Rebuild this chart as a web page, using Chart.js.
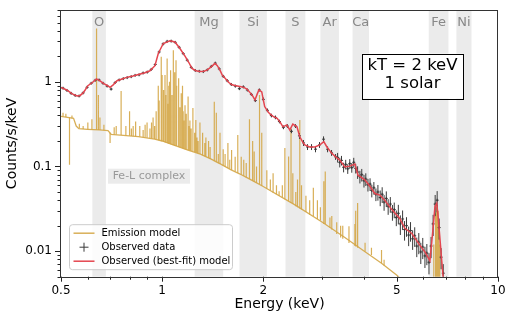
<!DOCTYPE html>
<html><head><meta charset="utf-8">
<script src="https://cdn.jsdelivr.net/npm/chart.js@4"></script>
<style>html,body{margin:0;padding:0;background:#fff}#wrap{width:509px;height:316px;position:relative}</style>
</head><body><div id="wrap"><canvas id="c" width="509" height="316"></canvas></div>
<script>
// ---- Observed (best-fit) model (red) ----
const modelE = [0.50,0.52,0.54,0.558,0.57,0.581,0.59,0.601,0.62,0.638,0.655,0.67,0.685,0.70,0.715,0.734,0.76,0.78,0.80,0.819,0.85,0.889,0.92,0.952,0.974,1.008,1.055,1.092,1.13,1.17,1.20,1.227,1.26,1.296,1.33,1.36,1.40,1.437,1.46,1.487,1.51,1.54,1.58,1.614,1.66,1.705,1.75,1.789,1.83,1.86,1.89,1.92,1.942,1.98,2.00,2.02,2.06,2.09,2.14,2.20,2.25,2.29,2.35,2.40,2.45,2.52,2.57,2.62,2.66,2.75,2.85,2.95,3.03,3.095,3.20,3.30,3.38,3.50,3.62,3.75,3.83,3.93,4.02,4.16,4.30,4.45,4.60,4.83,5.10,5.28,5.54,5.85,6.06,6.27,6.40,6.49,6.57,6.62,6.71,6.80,6.90];
const modelV = [0.86,0.80,0.72,0.68,0.69,0.735,0.80,0.90,0.98,1.08,1.02,0.95,0.91,0.86,0.92,1.03,1.08,1.12,1.15,1.17,1.22,1.28,1.35,1.55,2.16,2.83,3.04,2.95,2.47,2.01,1.70,1.44,1.35,1.32,1.33,1.37,1.50,1.65,1.55,1.37,1.20,1.10,0.98,0.92,0.90,0.88,0.86,0.82,0.74,0.68,0.61,0.72,0.80,0.76,0.62,0.51,0.45,0.42,0.39,0.37,0.33,0.294,0.31,0.27,0.316,0.294,0.224,0.195,0.18,0.17,0.17,0.18,0.196,0.17,0.143,0.128,0.119,0.099,0.101,0.107,0.079,0.074,0.069,0.058,0.048,0.046,0.040,0.031,0.0244,0.0186,0.0162,0.0118,0.0098,0.0077,0.0177,0.0334,0.0367,0.028,0.0148,0.0077,0.004];

// ---- Observed data (with fractional errors) ----
const dataE = [0.507,0.521,0.536,0.551,0.566,0.582,0.598,0.615,0.632,0.649,
 0.667,0.686,0.705,0.725,0.745,0.766,0.787,0.809,0.831,0.854,
 0.878,0.903,0.928,0.954,0.980,1.007,1.035,1.064,1.094,1.124,
 1.156,1.188,1.221,1.255,1.290,1.326,1.363,1.401,1.440,1.480,
 1.521,1.563,1.607,1.652,1.698,1.745,1.794,1.844,1.895,1.948,
 2.002,2.058,2.115,2.174,2.235,2.297,2.361,2.427,2.495,2.564,
 2.636,2.709,2.785,2.862,2.942,3.024,3.109,3.195,3.284,
 3.33,3.38,3.42,3.47,3.52,3.57,3.62,3.67,3.72,3.77,
 3.82,3.88,3.93,3.99,4.04,4.10,4.16,4.21,4.27,4.33,
 4.39,4.46,4.52,4.58,4.65,4.71,4.78,4.85,4.91,4.98,
 5.05,5.12,5.20,5.27,5.34,5.42,5.49,5.57,5.65,5.73,
 5.81,5.89,5.97,6.06,6.14,6.23,6.32,6.41,6.50,6.59,
 6.68,6.77,6.87];
const dataV = [0.84,0.79,0.73,0.69,0.68,0.74,0.86,0.96,1.04,1.05,
 0.96,0.89,0.82,0.98,1.05,1.09,1.12,1.15,1.19,1.21,
 1.27,1.30,1.40,1.60,2.25,2.80,3.00,3.02,2.92,2.55,
 2.15,1.80,1.48,1.36,1.33,1.32,1.38,1.52,1.66,1.42,
 1.16,1.03,0.93,0.89,0.83,0.87,0.80,0.71,0.60,0.80,
 0.62,0.46,0.40,0.38,0.34,0.29,0.30,0.26,0.30,0.23,
 0.19,0.17,0.17,0.16,0.18,0.21,0.16,0.145,0.13,
 0.128,0.112,0.118,0.098,0.106,0.094,0.108,0.097,0.112,0.095,
 0.086,0.076,0.080,0.068,0.071,0.061,0.062,0.052,0.056,0.047,
 0.050,0.043,0.047,0.038,0.042,0.034,0.036,0.029,0.031,0.025,
 0.028,0.021,0.024,0.018,0.020,0.0155,0.0175,0.0140,0.0152,0.0115,
 0.0128,0.0098,0.0112,0.0088,0.0095,0.0074,0.0115,0.021,0.036,0.040,
 0.019,0.0085,0.0055];
const dataErr = [0.02,0.02,0.02,0.02,0.02,0.02,0.02,0.02,0.02,0.02,
 0.02,0.02,0.02,0.02,0.02,0.02,0.02,0.02,0.02,0.02,
 0.02,0.02,0.02,0.02,0.02,0.02,0.02,0.02,0.02,0.02,
 0.02,0.02,0.02,0.02,0.02,0.02,0.02,0.02,0.02,0.02,
 0.03,0.03,0.03,0.03,0.03,0.03,0.03,0.03,0.03,0.03,
 0.05,0.05,0.05,0.05,0.05,0.05,0.05,0.05,0.05,0.08,
 0.08,0.08,0.08,0.08,0.08,0.08,0.08,0.08,0.08,
 0.13,0.13,0.13,0.13,0.13,0.13,0.13,0.13,0.13,0.13,
 0.17,0.17,0.17,0.17,0.17,0.17,0.17,0.17,0.17,0.17,
 0.21,0.21,0.21,0.21,0.21,0.21,0.21,0.21,0.21,0.21,
 0.26,0.26,0.26,0.26,0.26,0.26,0.26,0.26,0.26,0.26,
 0.28,0.28,0.28,0.28,0.28,0.28,0.28,0.28,0.28,0.28,
 0.28,0.28,0.28];

// ---- Emission model (gold): continuum + lines ----
const contE = [0.50,0.545,0.555,0.565,0.60,0.65,0.69,0.705,0.75,0.85,0.95,1.0,1.1,1.2,1.3,1.4,1.5,1.6,1.7,1.8,1.9,2.0,2.5,3.0,3.5,4.0,4.5,5.0,5.2];
const contV = [0.39,0.37,0.30,0.28,0.275,0.27,0.265,0.24,0.235,0.225,0.21,0.20,0.175,0.155,0.14,0.122,0.106,0.092,0.082,0.073,0.065,0.058,0.0347,0.022,0.0145,0.0100,0.0072,0.0052,0.0045];
const lineE = [0.507,0.517,0.530,0.539,0.567,0.582,0.601,0.618,0.638,0.646,
 0.653,0.671,0.700,0.720,0.730,0.755,0.780,0.800,0.810,0.820,
 0.834,0.858,0.878,0.890,0.902,0.920,0.930,0.940,0.950,0.960,
 0.974,0.980,0.994,1.000,1.010,1.020,1.025,1.035,1.040,1.047,
 1.052,1.060,1.070,1.080,1.090,1.100,1.105,1.120,1.130,1.140,
 1.150,1.155,1.160,1.170,1.180,1.195,1.200,1.210,1.220,1.235,
 1.250,1.260,1.270,1.280,1.296,1.320,1.340,1.350,1.375,1.390,
 1.430,1.450,1.470,1.487,1.520,1.540,1.570,1.590,1.610,1.650,
 1.680,1.720,1.750,1.780,1.820,1.860,1.880,1.910,1.950,1.980,
 2.050,2.100,2.140,2.190,2.230,2.280,2.320,2.380,2.420,2.450,
 2.500,2.530,2.570,2.600,2.680,2.750,2.820,2.900,2.960,3.030,
 3.060,3.160,3.200,3.310,3.400,3.450,3.600,3.750,3.770,3.820,
 4.020,4.200,4.500,4.580,6.440,6.520,6.560,6.600,6.640,6.670,
 6.710];
const linePeak = [0.43,0.42,0.105,0.40,0.32,0.30,0.33,0.36,4.25,0.70,
 0.38,0.31,0.19,0.29,0.30,0.78,0.30,0.45,0.28,0.30,
 0.34,0.30,0.27,0.31,0.33,0.28,0.33,0.38,0.30,0.45,
 0.90,0.60,1.97,1.20,0.80,1.20,0.70,1.88,0.55,0.90,
 1.00,1.37,0.70,2.36,1.30,1.80,0.90,1.10,0.50,0.73,
 0.90,0.45,0.35,0.53,0.42,0.67,0.30,0.35,0.28,0.49,
 0.25,0.354,0.22,0.20,0.33,0.25,0.19,0.22,0.20,0.17,
 0.58,0.43,0.14,0.25,0.16,0.14,0.19,0.12,0.157,0.13,
 0.236,0.13,0.12,0.11,0.36,0.20,0.15,0.10,0.70,0.25,
 0.09,0.07,0.083,0.06,0.051,0.06,0.165,0.131,0.283,0.083,
 0.05,0.07,0.354,0.06,0.045,0.04,0.056,0.04,0.033,0.067,
 0.087,0.025,0.026,0.022,0.02,0.02,0.0197,0.021,0.030,0.037,
 0.0126,0.011,0.0103,0.0079,0.012,0.028,0.033,0.035,0.030,0.022,
 0.012];
const lineBase = [0.39,0.385,0.38,0.37,0.28,0.278,0.275,0.273,0.272,0.27,
 0.27,0.268,0.25,0.24,0.238,0.235,0.232,0.23,0.229,0.228,
 0.226,0.224,0.222,0.22,0.218,0.215,0.214,0.212,0.211,0.21,
 0.205,0.203,0.200,0.199,0.196,0.193,0.192,0.189,0.188,0.186,
 0.185,0.183,0.18,0.178,0.176,0.175,0.174,0.17,0.168,0.166,
 0.164,0.163,0.162,0.16,0.158,0.156,0.155,0.153,0.152,0.15,
 0.148,0.146,0.144,0.142,0.14,0.136,0.132,0.13,0.126,0.123,
 0.115,0.112,0.109,0.107,0.102,0.099,0.096,0.094,0.091,0.087,
 0.084,0.080,0.077,0.074,0.071,0.068,0.066,0.064,0.062,0.059,
 0.055,0.052,0.049,0.047,0.045,0.043,0.041,0.039,0.037,0.036,
 0.034,0.033,0.032,0.031,0.029,0.027,0.026,0.024,0.023,0.021,
 0.021,0.019,0.018,0.016,0.0145,0.014,0.0125,0.0115,0.0114,0.011,
 0.0099,0.009,0.0072,0.0068,0.004,0.004,0.004,0.004,0.004,0.004,
 0.004];

// ---- Element bands ----
const bandNames = ['O','Mg','Si','S','Ar','Ca','Fe','Ni'];
const bandLo = [0.62,1.25,1.70,2.33,2.96,3.69,6.22,7.52];
const bandHi = [0.68,1.52,2.05,2.67,3.36,4.13,7.12,8.34];

// ---- Ticks ----
const xTicks = [0.5,0.6,0.7,0.8,0.9,1,2,3,4,5,6,7,8,9,10];
const xLabels = [0.5,1,2,5,10];
const yTicks = [0.005,0.006,0.007,0.008,0.009,0.01,0.02,0.03,0.04,0.05,0.06,0.07,0.08,0.09,0.1,0.2,0.3,0.4,0.5,0.6,0.7,0.8,0.9,1,2,3,4,5,6,7];
const yLabels = [0.01,0.1,1];

const FONT = 'DejaVu Sans';
const GOLD = 'rgba(212,166,70,0.9)';
const RED = '#e4454f';
const DARK = '#3a3a3a';

const spikeData = [];
for (let i = 0; i < lineE.length; i++) {
  spikeData.push({x: lineE[i], y: lineBase[i]});
  spikeData.push({x: lineE[i], y: linePeak[i]});
  spikeData.push({x: lineE[i], y: null});
}

const deco = {
  id: 'deco',
  beforeDatasetsDraw(chart) {
    const {ctx, chartArea: a, scales: {x, y}} = chart;
    ctx.save();
    ctx.fillStyle = '#ebebeb';
    for (let i = 0; i < bandNames.length; i++) {
      const x0 = x.getPixelForValue(bandLo[i]), x1 = x.getPixelForValue(bandHi[i]);
      ctx.fillRect(x0, a.top, x1 - x0, a.bottom - a.top);
    }
    ctx.fillStyle = '#888';
    ctx.font = '13px "' + FONT + '"';
    ctx.textAlign = 'center';
    ctx.textBaseline = 'middle';
    for (let i = 0; i < bandNames.length; i++) {
      const x0 = x.getPixelForValue(bandLo[i]), x1 = x.getPixelForValue(bandHi[i]);
      ctx.fillText(bandNames[i], (x0 + x1) / 2, a.top + 12);
    }
    // Fe-L complex label
    const lx = a.left + 88, ly = a.top + 166;
    ctx.fillStyle = '#ebebeb';
    ctx.fillRect(lx - 41, ly - 7.5, 82, 15);
    ctx.fillStyle = '#999';
    ctx.font = '11px "' + FONT + '"';
    ctx.fillText('Fe-L complex', lx, ly);
    ctx.restore();
  },
  afterDatasetDraw(chart, args) {
    if (args.index !== 1) return;
    const {ctx, chartArea: a, scales: {x, y}} = chart;
    ctx.save();
    ctx.beginPath();
    ctx.rect(a.left, a.top, a.right - a.left, a.bottom - a.top);
    ctx.clip();
    ctx.strokeStyle = DARK;
    ctx.lineWidth = 1;
    ctx.beginPath();
    for (let i = 0; i < dataE.length; i++) {
      const px = x.getPixelForValue(dataE[i]);
      const p0 = y.getPixelForValue(dataV[i] * (1 - dataErr[i]));
      const p1 = y.getPixelForValue(dataV[i] * (1 + dataErr[i]));
      ctx.moveTo(px, p0); ctx.lineTo(px, p1);
    }
    ctx.stroke();
    ctx.restore();
  },
  afterDraw(chart) {
    const {ctx, chartArea: a, scales: {x, y}} = chart;
    ctx.save();
    // ticks
    ctx.strokeStyle = '#222';
    ctx.lineWidth = 1;
    ctx.beginPath();
    xTicks.forEach(v => {
      const px = Math.round(x.getPixelForValue(v)) + 0.5;
      const len = xLabels.includes(v) ? 5 : 3;
      ctx.moveTo(px, a.bottom); ctx.lineTo(px, a.bottom + len);
    });
    yTicks.forEach(v => {
      const py = Math.round(y.getPixelForValue(v)) + 0.5;
      const len = yLabels.includes(v) ? 6 : 3.5;
      ctx.moveTo(a.left, py); ctx.lineTo(a.left - len, py);
    });
    ctx.stroke();
    // spines
    ctx.strokeStyle = '#333';
    ctx.strokeRect(Math.round(a.left) - 0.5, Math.round(a.top) + 0.5, Math.round(a.right - a.left), Math.round(a.bottom - a.top));
    // text box
    const bx = a.left + 301, by = a.top + 43.5, bw = 101, bh = 45;
    ctx.fillStyle = '#fff';
    ctx.fillRect(bx, by, bw, bh);
    ctx.strokeStyle = '#000';
    ctx.strokeRect(Math.round(bx) + 0.5, Math.round(by) + 0.5, bw, bh);
    ctx.fillStyle = '#000';
    ctx.font = '16.5px "' + FONT + '"';
    ctx.textAlign = 'center';
    ctx.textBaseline = 'middle';
    ctx.fillText('kT = 2 keV', bx + bw / 2, by + 12.5);
    ctx.fillText('1 solar', bx + bw / 2, by + 30.5);
    // legend
    const lx = a.left + 8.5, ly = a.top + 214.5, lw = 163, lh = 45;
    ctx.beginPath();
    ctx.roundRect(lx, ly, lw, lh, 3);
    ctx.fillStyle = 'rgba(255,255,255,0.85)';
    ctx.fill();
    ctx.strokeStyle = '#cccccc';
    ctx.stroke();
    const rows = [ly + 8.5, ly + 22.5, ly + 36.5];
    ctx.lineWidth = 1.5;
    ctx.strokeStyle = GOLD;
    ctx.beginPath(); ctx.moveTo(lx + 4, rows[0]); ctx.lineTo(lx + 25, rows[0]); ctx.stroke();
    ctx.strokeStyle = RED;
    ctx.beginPath(); ctx.moveTo(lx + 4, rows[2]); ctx.lineTo(lx + 25, rows[2]); ctx.stroke();
    ctx.lineWidth = 1;
    ctx.strokeStyle = DARK;
    ctx.beginPath();
    ctx.moveTo(lx + 10, rows[1]); ctx.lineTo(lx + 19, rows[1]);
    ctx.moveTo(lx + 14.5, rows[1] - 4.5); ctx.lineTo(lx + 14.5, rows[1] + 4.5);
    ctx.stroke();
    ctx.fillStyle = '#000';
    ctx.font = '10px "' + FONT + '"';
    ctx.textAlign = 'left';
    ctx.fillText('Emission model', lx + 32, rows[0]);
    ctx.fillText('Observed data', lx + 32, rows[1]);
    ctx.fillText('Observed (best-fit) model', lx + 32, rows[2]);
    ctx.restore();
  }
};

new Chart(document.getElementById('c'), {
  type: 'line',
  data: {
    datasets: [
      {label: 'Observed (best-fit) model', data: modelE.map((e, i) => ({x: e, y: modelV[i]})),
       borderColor: RED, borderWidth: 1.5, pointRadius: 0, fill: false, tension: 0},
      {label: 'Observed data', data: dataE.map((e, i) => ({x: e, y: dataV[i]})),
       showLine: false, pointStyle: 'cross', pointRadius: 1.5, borderColor: DARK, backgroundColor: DARK, pointBorderWidth: 1},
      {label: 'Emission lines', data: spikeData, spanGaps: false,
       borderColor: GOLD, borderWidth: 1.2, pointRadius: 0, fill: false},
      {label: 'Emission model', data: contE.map((e, i) => ({x: e, y: contV[i]})),
       borderColor: GOLD, borderWidth: 1.3, pointRadius: 0, fill: false}
    ]
  },
  options: {
    responsive: false, animation: false, devicePixelRatio: 1,
    layout: {padding: {left: 0, right: 11, top: 9.5, bottom: 0}},
    plugins: {legend: {display: false}, tooltip: {enabled: false}},
    scales: {
      x: {
        type: 'logarithmic', min: 0.5, max: 10,
        afterBuildTicks: s => { s.ticks = xTicks.map(v => ({value: v})); },
        afterFit: s => { s.height = 39.3; },
        ticks: {autoSkip: false, maxRotation: 0, color: '#000', padding: 2,
          font: {family: FONT, size: 12},
          callback: v => xLabels.includes(v) ? String(v) : ''},
        grid: {display: true, drawOnChartArea: false, color: 'rgba(0,0,0,0)', tickLength: 5},
        border: {display: false},
        title: {display: true, text: 'Energy (keV)', color: '#000', font: {family: FONT, size: 14}, padding: {top: 0, bottom: 3}}
      },
      y: {
        type: 'logarithmic', min: 0.005, max: 7,
        afterBuildTicks: s => { s.ticks = yTicks.map(v => ({value: v})); },
        afterFit: s => { s.width = 61; },
        ticks: {autoSkip: false, color: '#000', padding: 3,
          font: {family: FONT, size: 12},
          callback: v => yLabels.includes(v) ? String(v) : ''},
        grid: {display: true, drawOnChartArea: false, color: 'rgba(0,0,0,0)', tickLength: 6},
        border: {display: false},
        title: {display: true, text: 'Counts/s/keV', color: '#000', font: {family: FONT, size: 14}, padding: {top: 4, bottom: 4}}
      }
    }
  },
  plugins: [deco]
});
</script></body></html>
